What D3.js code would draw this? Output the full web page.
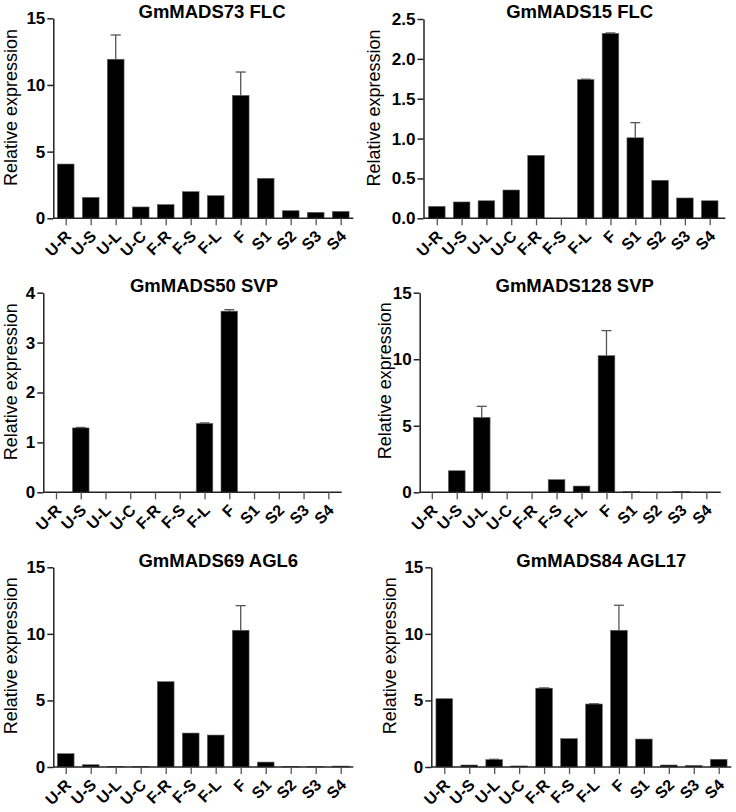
<!DOCTYPE html>
<html><head><meta charset="utf-8">
<script src="https://cdn.jsdelivr.net/npm/d3@7/dist/d3.min.js"></script>
<style>
body{margin:0;background:#fff;}
svg{display:block;font-family:"Liberation Sans",Arial,sans-serif;}
</style></head>
<body>
<svg id="c" width="736" height="812"></svg>
<script>
const categories = ["U-R","U-S","U-L","U-C","F-R","F-S","F-L","F","S1","S2","S3","S4"];
const titles = ["GmMADS73 FLC","GmMADS15 FLC","GmMADS50 SVP","GmMADS128 SVP","GmMADS69 AGL6","GmMADS84 AGL17"];
const valuesMADS73  = [4.07,1.57,11.93,0.85,1.03,2.0,1.7,9.22,3.0,0.57,0.45,0.52];
const errorsMADS73  = [0,0,1.82,0,0,0,0,1.75,0,0,0,0];
const valuesMADS15  = [0.15,0.205,0.22,0.355,0.79,0,1.74,2.32,1.01,0.477,0.255,0.22];
const errorsMADS15  = [0,0,0,0,0,0,0.005,0.005,0.19,0,0,0];
const valuesMADS50  = [0,1.29,0,0,0,0,1.38,3.63,0,0,0,0];
const errorsMADS50  = [0,0.01,0,0,0,0,0.01,0.03,0,0,0,0];
const valuesMADS128 = [0,1.62,5.63,0,0,0.95,0.47,10.27,0.05,0,0.06,0];
const errorsMADS128 = [0,0,0.83,0,0,0,0,1.88,0,0,0,0];
const valuesMADS69  = [1.0,0.17,0.05,0.03,6.41,2.55,2.4,10.27,0.37,0.04,0.03,0.07];
const errorsMADS69  = [0,0,0,0,0,0,0,1.85,0,0,0,0];
const valuesMADS84  = [5.13,0.15,0.55,0.08,5.92,2.13,4.73,10.27,2.1,0.15,0.12,0.58];
const errorsMADS84  = [0,0,0.03,0,0.02,0,0.02,1.88,0,0,0,0];
const yMaxes = [15,2.5,4,15,15,15];
const yTickValues = [[0,5,10,15],[0,0.5,1,1.5,2,2.5],[0,1,2,3,4],[0,5,10,15],[0,5,10,15],[0,5,10,15]];
const yTickFormats = ["d",".1f","d","d","d","d"];

const seriesValues = [valuesMADS73,valuesMADS15,valuesMADS50,valuesMADS128,valuesMADS69,valuesMADS84];
const seriesErrors = [errorsMADS73,errorsMADS15,errorsMADS50,errorsMADS128,errorsMADS69,errorsMADS84];

// layout per panel (pixel geometry only)
const layout = [
  {ax:53.3, end:353.3, first:65.7, last:340.7, y0:218.3, yt:18.3, tx:212, ty:17.5, lx:17, ly:107.5},
  {ax:423.5,end:725.3, first:436.8,last:709.7, y0:218.3, yt:19,   tx:579.7,ty:17.5, lx:380, ly:108},
  {ax:43.3, end:341.7, first:56,   last:328.3, y0:492.3, yt:292.7,tx:204, ty:291.7,lx:17, ly:381.7},
  {ax:419.7,end:720.7, first:431.8,last:706.3, y0:492.3, yt:292.7,tx:574.7,ty:291.7,lx:391, ly:380.7},
  {ax:53.3, end:353.3, first:65.7, last:340.7, y0:767,   yt:567.3,tx:218.3,ty:567.3,lx:17, ly:655.7},
  {ax:431.3,end:731.3, first:444.3,last:718.7, y0:767,   yt:567.3,tx:601.3,ty:567.3,lx:396, ly:655.7}
];

const svg = d3.select("#c");
const axisColor = "#222";

layout.forEach((L,i)=>{
  const g = svg.append("g");
  const x = d3.scalePoint().domain(categories).range([L.first, L.last]);
  const bw = x.step()*0.67;
  const y = d3.scaleLinear().domain([0,yMaxes[i]]).range([L.y0, L.yt]);
  const vals = seriesValues[i], errs = seriesErrors[i];

  // error bars (behind bars)
  const eg = g.append("g");
  categories.forEach((c,k)=>{
    if(errs[k] > 0){
      const cx = x(c), top = y(vals[k]+errs[k]);
      eg.append("line").attr("x1",cx).attr("x2",cx).attr("y1",y(vals[k])).attr("y2",top)
        .attr("stroke","#555").attr("stroke-width",1.3);
      eg.append("line").attr("x1",cx-bw*0.3).attr("x2",cx+bw*0.3).attr("y1",top).attr("y2",top)
        .attr("stroke","#555").attr("stroke-width",1.3);
    }
  });
  // bars
  g.append("g").selectAll("rect").data(categories).join("rect")
    .attr("x",c=>x(c)-bw/2).attr("width",bw)
    .attr("y",(c,k)=>y(vals[k])).attr("height",(c,k)=>L.y0-y(vals[k]))
    .attr("fill","#000").attr("stroke","#666").attr("stroke-width",0.6);

  // y axis
  const ya = d3.axisLeft(y).tickValues(yTickValues[i]).tickFormat(d3.format(yTickFormats[i])).tickSize(6).tickPadding(2).tickSizeOuter(0);
  const yg = g.append("g").attr("transform",`translate(${L.ax},0)`).call(ya);
  yg.select(".domain").attr("stroke",axisColor).attr("stroke-width",1.5);
  yg.selectAll(".tick line").attr("stroke",axisColor).attr("stroke-width",1.5);
  yg.selectAll(".tick text").attr("fill","#000").style("font-size","17px").style("font-weight","bold");

  // x axis
  g.append("line").attr("x1",L.ax).attr("x2",L.end).attr("y1",L.y0).attr("y2",L.y0)
    .attr("stroke",axisColor).attr("stroke-width",1.5);
  const xa = d3.axisBottom(x).tickSize(7).tickSizeOuter(0);
  const xg = g.append("g").attr("transform",`translate(0,${L.y0})`).call(xa);
  xg.select(".domain").remove();
  xg.selectAll(".tick line").attr("stroke","#555").attr("stroke-width",1.3);
  xg.selectAll(".tick text").attr("fill","#000").style("font-size","16px").style("font-weight","bold")
    .attr("text-anchor","end").attr("dy",null).attr("y",null)
    .attr("transform","translate(6,19) rotate(-45)");

  // title
  g.append("text").attr("x",L.tx).attr("y",L.ty).attr("text-anchor","middle")
    .style("font-size","18.5px").style("font-weight","bold").text(titles[i]);
  // y label
  g.append("text").attr("transform",`translate(${L.lx},${L.ly}) rotate(-90)`).attr("text-anchor","middle")
    .style("font-size","18px").text("Relative expression");
});
</script>
</body></html>
